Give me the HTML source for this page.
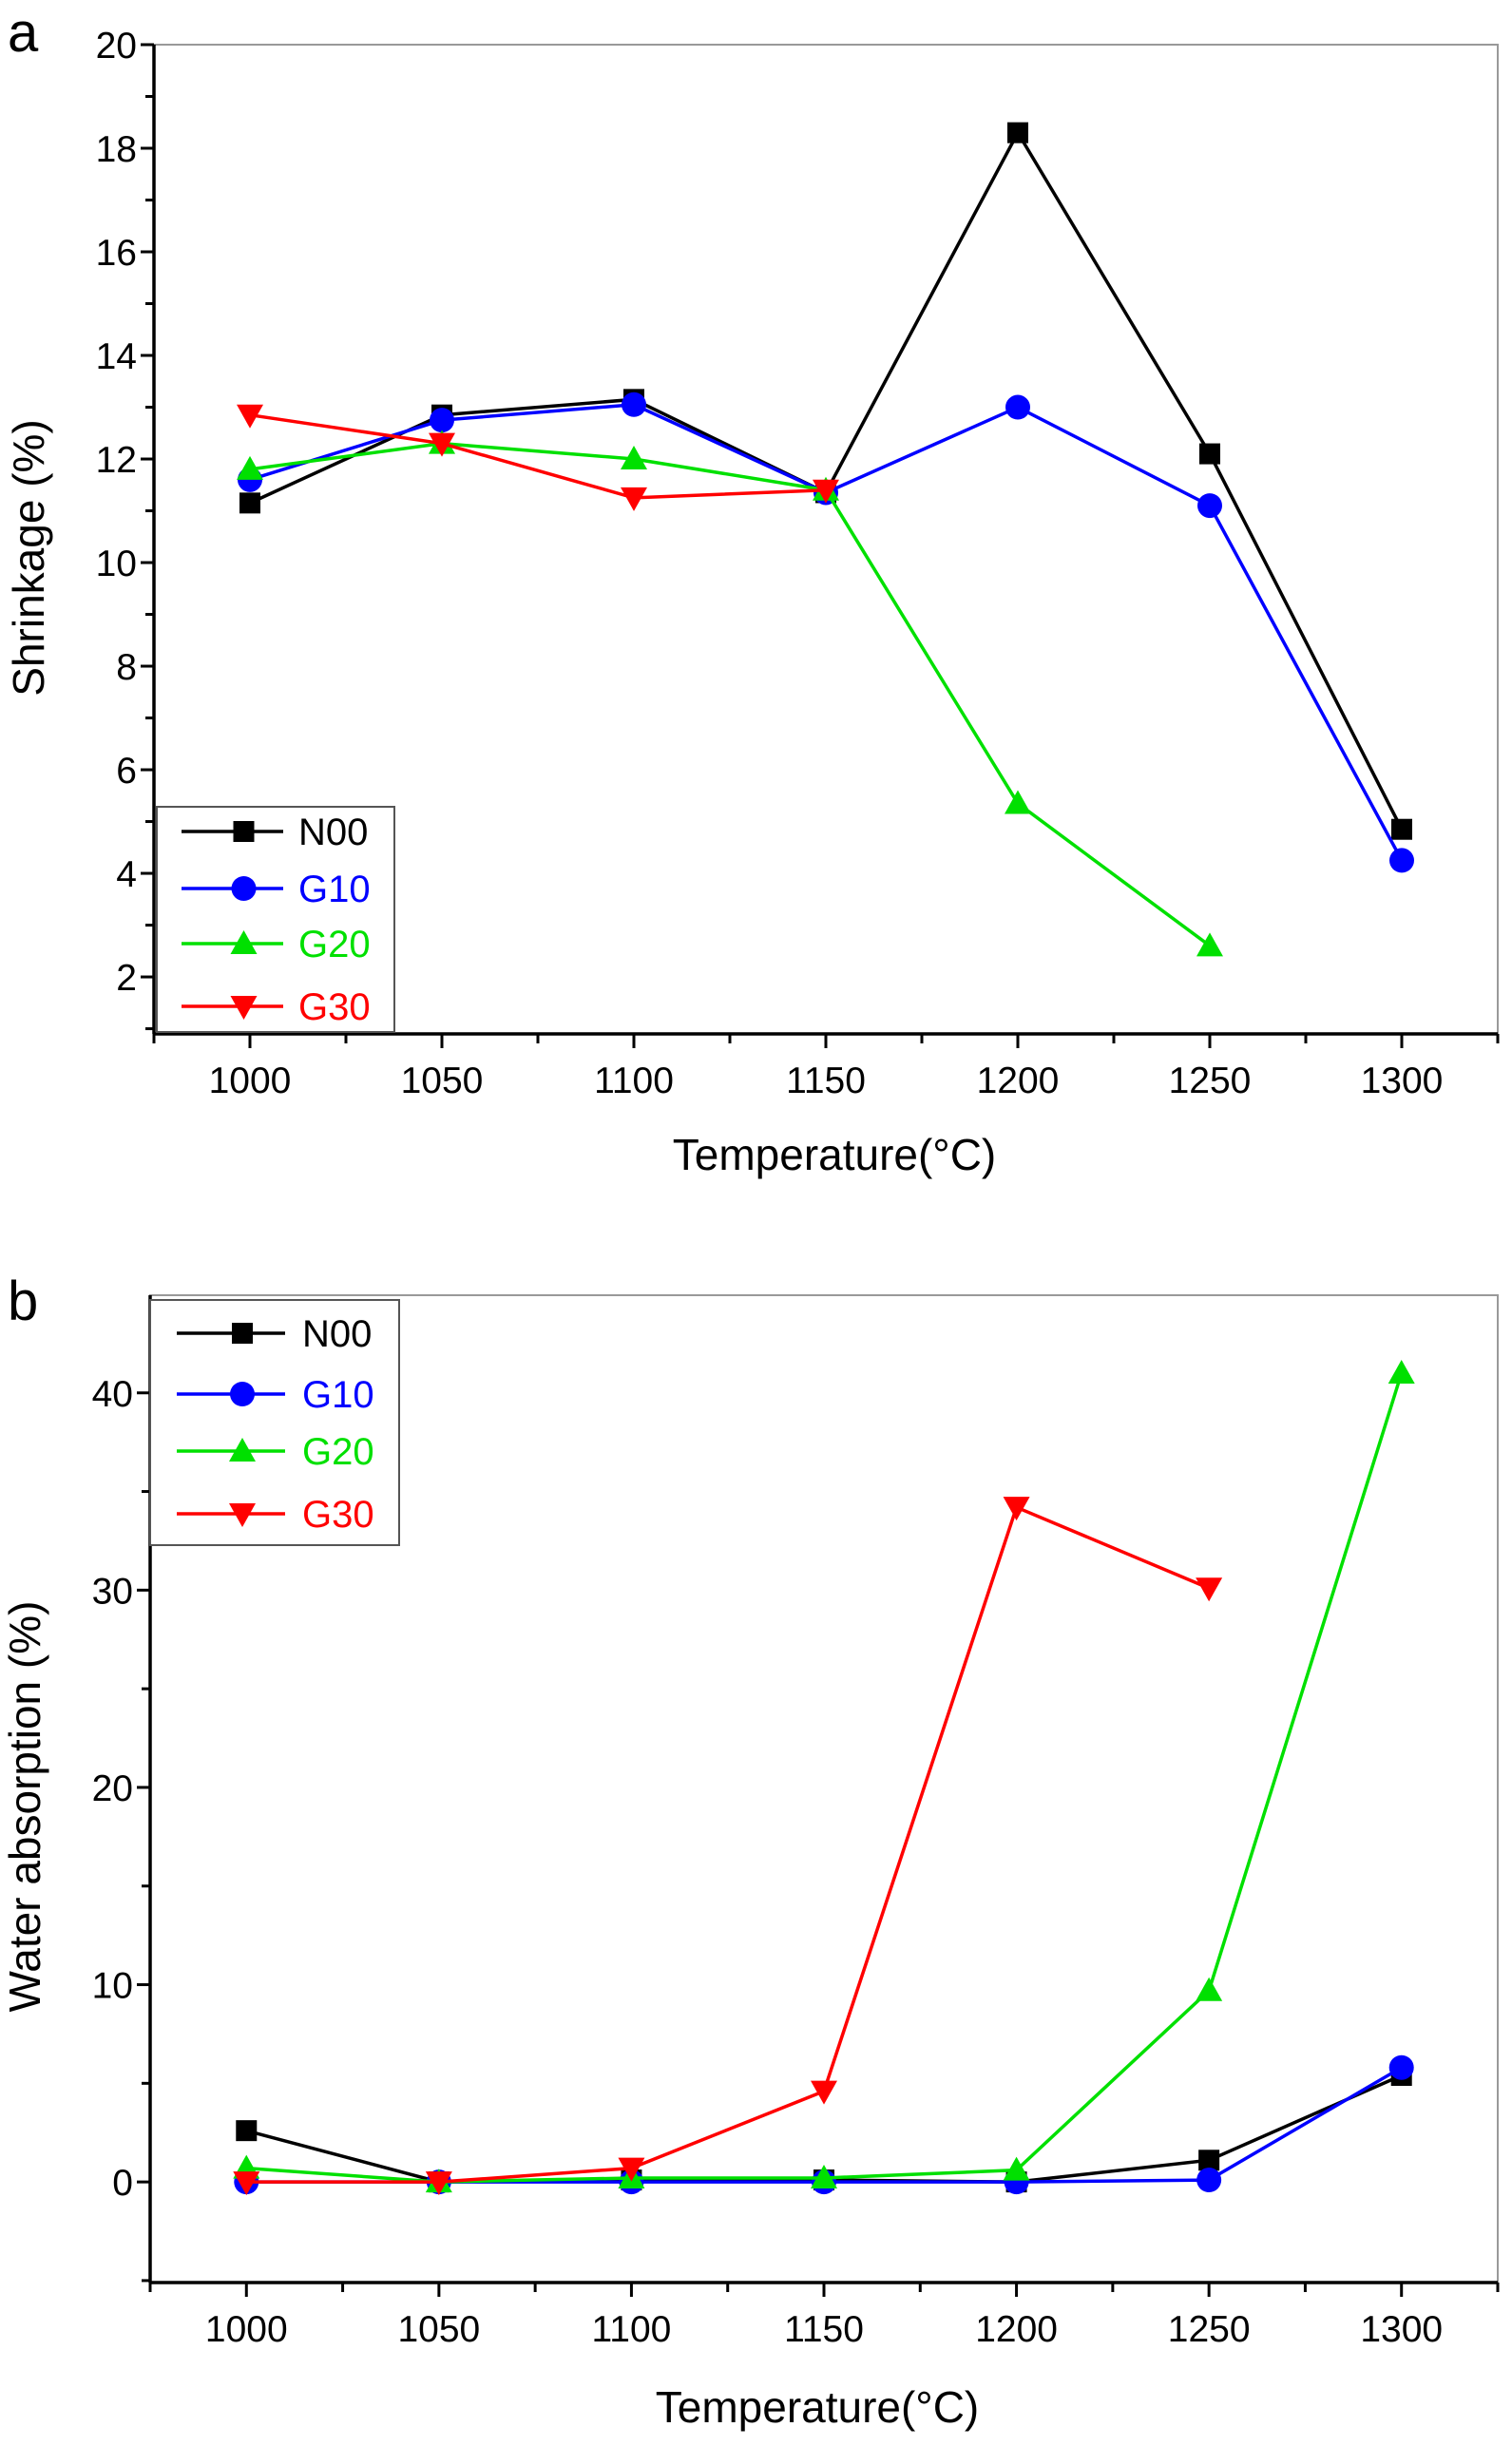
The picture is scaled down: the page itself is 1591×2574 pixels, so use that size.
<!DOCTYPE html>
<html><head><meta charset="utf-8"><style>
html,body{margin:0;padding:0;background:#fff;}
svg{display:block;font-family:"Liberation Sans",Arial,sans-serif;}
</style></head><body>
<svg id="chart" width="1591" height="2574" viewBox="0 0 1591 2574" xmlns="http://www.w3.org/2000/svg"></svg>
<script>
const temps = [1000,1050,1100,1150,1200,1250,1300];
const seriesNames = ["N00","G10","G20","G30"];
const seriesColors = ["#000000","#0000ff","#00e000","#ff0000"];
const markers = ["square","circle","up","down"];
// panel a: shrinkage (%)
const shrinkN00 = [11.15,12.85,13.15,11.35,18.3,12.1,4.85];
const shrinkG10 = [11.6,12.75,13.05,11.35,13.0,11.1,4.25];
const shrinkG20 = [11.8,12.3,12.0,11.4,5.35,2.6];
const shrinkG30 = [12.85,12.3,11.25,11.4];
const shrinkTicks = [2,4,6,8,10,12,14,16,18,20];
// panel b: water absorption (%)
const waterN00 = [2.6,0,0.1,0.1,0,1.1,5.4];
const waterG10 = [0,0,0,0,0,0.1,5.8];
const waterG20 = [0.7,0,0.2,0.2,0.6,9.7,41];
const waterG30 = [0,0,0.7,4.6,34.2,30.1];
const waterTicks = [0,10,20,30,40];

const NS="http://www.w3.org/2000/svg";
const svg=document.getElementById('chart');
function mk(tag,attrs,parent){const e=document.createElementNS(NS,tag);for(const k in attrs)e.setAttribute(k,attrs[k]);(parent||svg).appendChild(e);return e;}

function panel(cfg){
  const g=mk('g',{});
  
  
  const {L,T,R,B,xmin,xmax,ymin,ymax}=cfg;
  const sx=v=>L+(v-xmin)/(xmax-xmin)*(R-L);
  const sy=v=>B-(v-ymin)/(ymax-ymin)*(B-T);
  const frame=mk('rect',{x:L,y:T,width:R-L,height:B-T,fill:'none',stroke:'#999','stroke-width':2},g);
  
  
  const ax=mk('line',{x1:L,y1:T,x2:L,y2:B,stroke:'#000','stroke-width':3.5},g);
  
  
  const bx=mk('line',{x1:L,y1:B,x2:R,y2:B,stroke:'#000','stroke-width':3.5},g);
  
  
  const step=cfg.ticks[1]-cfg.ticks[0];
  for(let v=cfg.ticks[0]-step;v<=cfg.ticks[cfg.ticks.length-1]+0.001;v+=step/2){
    if(v<ymin-0.001)continue;
    const major=cfg.ticks.some(t=>Math.abs(t-v)<1e-6);
    mk('line',{x1:L,y1:sy(v),x2:L-(major?14:9),y2:sy(v),stroke:'#000','stroke-width':3},g);
    if(major){const t=mk('text',{x:L-18,y:sy(v)+14,'text-anchor':'end','font-size':39},g);t.textContent=v;
      
      }
  }
  for(let v=975;v<=1325;v+=25){
    const major=v%50===0;
    mk('line',{x1:sx(v),y1:B,x2:sx(v),y2:B+(major?15:10),stroke:'#000','stroke-width':3},g);
    if(major&&v>=1000&&v<=1300){const t=mk('text',{x:sx(v),y:B+62,'text-anchor':'middle','font-size':39},g);t.textContent=v;
      
      }
  }
  const xt=mk('text',{x:cfg.xtX,y:cfg.xtY,'text-anchor':'middle','font-size':46},g);xt.textContent='Temperature(°C)';
  
  
  const yt=mk('text',{x:0,y:0,'text-anchor':'middle','font-size':46,transform:`translate(${cfg.ytX},${cfg.ytY}) rotate(-90)`},g);yt.textContent=cfg.ytitle;
  
  
  const lt=mk('text',{x:cfg.letX,y:cfg.letY,'font-size':58},g);lt.textContent=cfg.letter;
  
  
  function marker(type,x,y,c,parent){
    if(type==='square')return mk('rect',{x:x-11,y:y-11,width:22,height:22,fill:c},parent);
    if(type==='circle')return mk('circle',{cx:x,cy:y,r:13,fill:c},parent);
    if(type==='up')return mk('polygon',{points:`${x},${y-14} ${x+14},${y+11} ${x-14},${y+11}`,fill:c},parent);
    return mk('polygon',{points:`${x},${y+14} ${x+14},${y-11} ${x-14},${y-11}`,fill:c},parent);
  }
  cfg.series.forEach((vals,i)=>{
    const sg=mk('g',{},g);
    
    
    const pts=vals.map((v,j)=>sx(temps[j])+','+sy(v)).join(' ');
    mk('polyline',{points:pts,fill:'none',stroke:seriesColors[i],'stroke-width':3.5},sg);
    vals.forEach((v,j)=>{const m=marker(markers[i],sx(temps[j]),sy(v),seriesColors[i],sg);
      
      });
  });
  const lg=mk('g',{},g);
  
  
  const lb=cfg.legend;
  mk('rect',{x:lb.x,y:lb.y,width:lb.w,height:lb.h,fill:'#fff',stroke:'#555','stroke-width':2},lg);
  seriesNames.forEach((n,i)=>{
    const y=lb.rows[i];
    const eg=mk('g',{},lg);
    
    
    mk('line',{x1:lb.l1,y1:y,x2:lb.l2,y2:y,stroke:seriesColors[i],'stroke-width':3.5},eg);
    marker(markers[i],(lb.l1+lb.l2)/2+12,y,seriesColors[i],eg);
    const t=mk('text',{x:lb.tx,y:y+14,'font-size':40,fill:seriesColors[i]},eg);t.textContent=n;
  });
}
panel({name:'shrinkage-chart',L:162,T:47,R:1576,B:1088,xmin:975,xmax:1325,ymin:0.9,ymax:20,
  ticks:shrinkTicks,series:[shrinkN00,shrinkG10,shrinkG20,shrinkG30],
  xtX:878,xtY:1231,ytX:46,ytY:587,ytitle:'Shrinkage (%)',letter:'a',letX:8,letY:54,
  legend:{x:165,y:849,w:250,h:237,rows:[875,935,993,1059],l1:191,l2:298,tx:314}});
panel({name:'water-absorption-chart',L:158,T:1363,R:1576,B:2402,xmin:975,xmax:1325,ymin:-5.1,ymax:44.95,
  ticks:waterTicks,series:[waterN00,waterG10,waterG20,waterG30],
  xtX:860,xtY:2549,ytX:42,ytY:1901,ytitle:'Water absorption (%)',letter:'b',letX:8,letY:1389,
  legend:{x:158,y:1368,w:262,h:258,rows:[1403,1467,1527,1593],l1:186,l2:300,tx:318}});
</script>
</body></html>
